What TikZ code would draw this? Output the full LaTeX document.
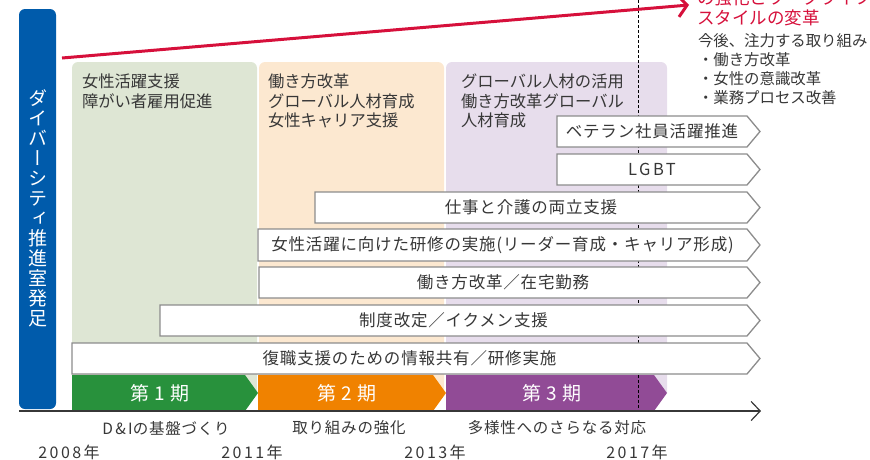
\documentclass[tikz,border=0pt]{standalone}
\usepackage{fontspec}
\setmainfont{Noto Sans CJK JP}[LetterSpace=5]
\newfontfamily\latsp{Noto Sans CJK JP}[LetterSpace=15]
\newfontfamily\nosp{Noto Sans CJK JP}
\newfontfamily\vjp{Noto Sans CJK JP}[RawFeature=+vert]
\usetikzlibrary{arrows.meta}
\definecolor{dblue}{RGB}{0,91,171}
\definecolor{dred}{RGB}{214,16,59}
\definecolor{bggreen}{RGB}{222,230,212}
\definecolor{bgorange}{RGB}{252,232,208}
\definecolor{bgpurple}{RGB}{231,221,236}
\definecolor{phgreen}{RGB}{40,145,60}
\definecolor{phorange}{RGB}{240,130,0}
\definecolor{phpurple}{RGB}{145,75,150}
\definecolor{bargray}{RGB}{140,140,140}
\definecolor{txt}{RGB}{55,55,55}
\tikzset{
  every node/.style={inner sep=0pt, outer sep=0pt, text=txt},
  barbox/.style={draw=bargray, line width=1.3pt, fill=white, line join=miter},
  bartext/.style={font=\fontsize{16.5}{18}\selectfont},
  pertext/.style={font=\nosp\fontsize{16.3}{19.5}\selectfont, align=left, anchor=north west},
  phtext/.style={font=\fontsize{19}{20}\selectfont, text=white},
  subtext/.style={font=\fontsize{15.5}{18}\selectfont},
  yeartext/.style={font=\latsp\fontsize{16}{18}\selectfont},
  redtext/.style={font=\nosp\fontsize{17.5}{20}\selectfont, text=dred, anchor=west},
}
\newcommand\abar[5]{%
  \draw[barbox] (#2,#3) -- (747,#3) -- (760,{(#3+#4)/2}) -- (747,#4) -- (#2,#4) -- cycle;
  \node[bartext] (#1) at ({(#2+747)/2},{(#3+#4)/2}) {#5};}
\newcommand\phase[5]{%
  \fill[#5] (#2,375) -- (#3,375) -- (#4,393) -- (#3,411) -- (#2,411) -- cycle;}
\begin{document}
\begin{tikzpicture}[x=1pt,y=-1pt]
\useasboundingbox (0,0) rectangle (870,459);
% period backgrounds
\fill[bggreen] (72,393) [rounded corners=6pt] -- (72,62) -- (257,62) [sharp corners] -- (257,393) -- cycle;
\fill[bgorange] (259,393) [rounded corners=6pt] -- (259,62) -- (444,62) [sharp corners] -- (444,393) -- cycle;
\fill[bgpurple] (446,393) [rounded corners=6pt] -- (446,62) -- (667,62) [sharp corners] -- (667,393) -- cycle;
\node[pertext] (p1) at (82,74) {女性活躍支援\\障がい者雇用促進};
\node[pertext] (p2) at (268,74) {働き方改革\\グローバル人材育成\\女性キャリア支援};
\node[pertext] (p3) at (461,74) {グローバル人材の活用\\働き方改革グローバル\\人材育成};
% phases
\phase{ph1}{72}{245}{258}{phgreen}
\phase{ph2}{258}{433}{446}{phorange}
\phase{ph3}{446}{654}{667}{phpurple}
\node[phtext] (t1) at (160,393) {第 1 期};
\node[phtext] (t2) at (347,393) {第 2 期};
\node[phtext] (t3) at (552,393) {第 3 期};
% dashed 2017 line
\coordinate (d1) at (638,0);
\coordinate (d2) at (638,411);
\draw[black, line width=0.9pt, dash pattern=on 3pt off 2pt] (d1) -- (d2);
% arrow bars
\abar{b1}{557}{116}{147}{ベテラン社員活躍推進}
\abar{b2}{557}{154}{185}{{\latsp LGBT}}
\abar{b3}{315}{192}{223}{仕事と介護の両立支援}
\abar{b4}{258}{229}{261}{女性活躍に向けた研修の実施(リーダー育成・キャリア形成)}
\abar{b5}{259}{267}{298}{働き方改革／在宅勤務}
\abar{b6}{160}{305}{336}{制度改定／イクメン支援}
\abar{b7}{72}{343}{374}{復職支援のための情報共有／研修実施}
% blue bar
\fill[dblue, rounded corners=6pt] (19,9) rectangle (56,409);
\node[font=\vjp\fontsize{19}{20}\selectfont, text=white, align=center] (vt) at (37.5,208)
  {ダ\\イ\\バ\\ー\\シ\\テ\\ィ\\推\\進\\室\\発\\足};
% axis
\coordinate (a0) at (19,411);
\coordinate (a1) at (761,411);
\draw[txt, line width=1.2pt, -{Straight Barb[length=9pt,width=19pt,line width=1.2pt]}] (a0) -- (a1);
% labels
\node[subtext] (l1) at (166,428) {{\latsp D\&I}の基盤づくり};
\node[subtext] (l2) at (349,428) {取り組みの強化};
\node[subtext] (l3) at (557,428) {多様性へのさらなる対応};
\node[yeartext] (y1) at (69,452) {2008年};
\node[yeartext] (y2) at (252,452) {2011年};
\node[yeartext] (y3) at (435,452) {2013年};
\node[yeartext] (y4) at (637,452) {2017年};
% red arrow
\coordinate (r0) at (62,58);
\coordinate (r1) at (689,5);
\draw[dred, line width=3pt, -{Straight Barb[length=9pt,width=22pt,line width=3pt]}] (r0) -- (r1);
\node[redtext] (rt0) at (697,-2) {の強化とワークライフ};
\node[redtext] (rt1) at (697,18) {スタイルの変革};
\node[font=\nosp\fontsize{15.4}{18.7}\selectfont, align=left, anchor=north west] (fut) at (698,34)
  {今後、注力する取り組み\\・働き方改革\\・女性の意識改革\\・業務プロセス改善};
\end{tikzpicture}
\end{document}
